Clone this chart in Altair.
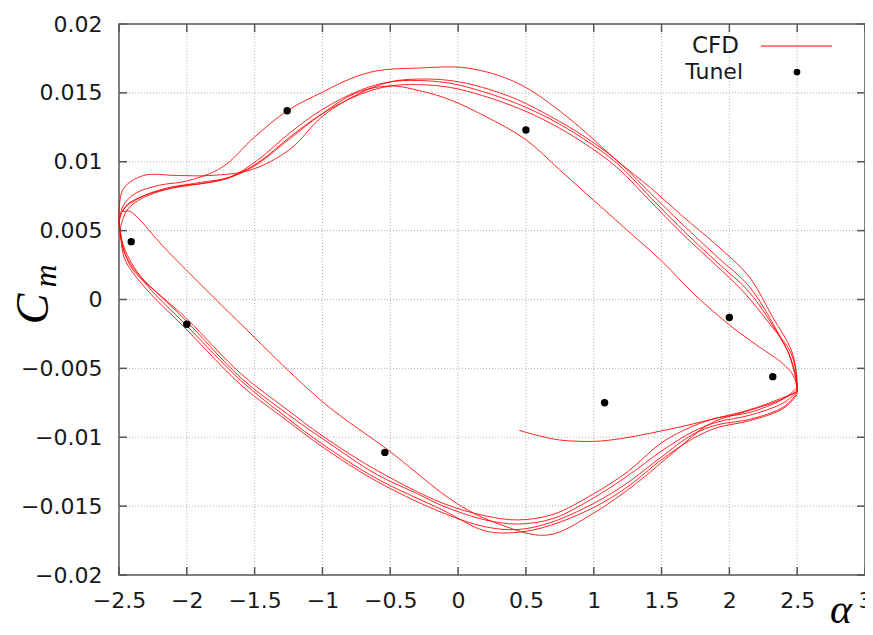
import altair as alt
import pandas as pd

# ---- data ----
# CFD: start transient, then alternating upper (alpha decreasing) / lower (alpha increasing) branches
S_a = [0.45, 0.6, 0.75, 1.0, 1.2, 1.42, 1.66, 1.91, 2.15, 2.35, 2.5]
S_c = [-0.0095, -0.0099, -0.0102, -0.0103, -0.0101, -0.0097, -0.0092, -0.0086, -0.0080, -0.0073, -0.0066]

U1_a = [2.5, 2.47, 2.4, 2.2, 2.02, 1.75, 1.5, 1.25, 1.0, 0.75, 0.5, 0.2, -0.06, -0.26, -0.5, -0.75, -1.0, -1.25, -1.5, -1.7, -1.9, -2.1, -2.3, -2.44]
U1_c = [-0.0064, -0.0055, -0.0047, -0.0033, -0.0020, 0.0003, 0.0028, 0.0050, 0.0072, 0.0094, 0.0116, 0.0133, 0.0145, 0.0151, 0.0155, 0.0150, 0.0135, 0.0116, 0.0097, 0.0088, 0.0084, 0.0082, 0.0076, 0.0068]

L1_a = [-2.47, -2.42, -2.15, -1.6, -0.99, -0.52, -0.01, 0.3, 0.66, 1.0, 1.32, 1.6, 1.86, 2.1, 2.35, 2.5]
L1_c = [0.0064, 0.0064, 0.0036, -0.0018, -0.0075, -0.0109, -0.0148, -0.0163, -0.0171, -0.0155, -0.0133, -0.0110, -0.0090, -0.0082, -0.0074, -0.0067]

U2_a = [2.5, 2.49, 2.45, 2.32, 2.15, 1.9, 1.66, 1.42, 1.17, 0.8, 0.44, 0.07, -0.3, -0.6, -0.8, -0.99, -1.26, -1.5, -1.74, -2.0, -2.2, -2.38, -2.47, -2.5]
U2_c = [-0.0067, -0.0050, -0.0035, -0.0013, 0.0016, 0.0040, 0.0060, 0.0081, 0.0101, 0.0133, 0.0157, 0.0168, 0.0168, 0.0166, 0.0160, 0.0151, 0.0137, 0.0118, 0.0096, 0.0086, 0.0083, 0.0077, 0.0068, 0.0055]

L2_a = [-2.5, -2.47, -2.4, -2.2, -2.0, -1.6, -1.26, -1.0, -0.6, -0.3, -0.11, 0.2, 0.44, 0.7, 1.0, 1.25, 1.5, 1.73, 1.91, 2.15, 2.4, 2.5]
L2_c = [0.0055, 0.0038, 0.0022, 0.0003, -0.0016, -0.0057, -0.0083, -0.0101, -0.0127, -0.0141, -0.0150, -0.0160, -0.0163, -0.0159, -0.0144, -0.0128, -0.0110, -0.0096, -0.0089, -0.0084, -0.0075, -0.0067]

U3_a = [2.5, 2.49, 2.45, 2.4, 2.15, 1.91, 1.66, 1.42, 1.17, 0.92, 0.68, 0.44, 0.18, -0.06, -0.3, -0.5, -0.72, -1.0, -1.24, -1.48, -1.68, -1.9, -2.07, -2.32, -2.44, -2.49]
U3_c = [-0.0067, -0.0056, -0.0042, -0.0032, 0.0005, 0.0027, 0.0050, 0.0074, 0.0099, 0.0117, 0.0131, 0.0142, 0.0151, 0.0157, 0.0159, 0.0158, 0.0152, 0.0138, 0.0121, 0.0101, 0.0089, 0.0085, 0.0082, 0.0074, 0.0065, 0.0052]

L3_a = [-2.49, -2.46, -2.32, -2.0, -1.59, -1.26, -1.0, -0.6, -0.11, 0.2, 0.44, 0.68, 1.0, 1.25, 1.49, 1.73, 1.91, 2.15, 2.4, 2.5]
L3_c = [0.0052, 0.0030, 0.0010, -0.0022, -0.0063, -0.0088, -0.0107, -0.0132, -0.0155, -0.0165, -0.0167, -0.0162, -0.0148, -0.0133, -0.0115, -0.0098, -0.0091, -0.0087, -0.0078, -0.0068]

U4_a = [2.5, 2.49, 2.44, 2.38, 2.15, 1.91, 1.66, 1.42, 1.17, 0.92, 0.68, 0.44, 0.18, -0.06, -0.3, -0.5, -0.72, -1.0, -1.24, -1.53, -1.83, -2.07, -2.32, -2.47, -2.5]
U4_c = [-0.0068, -0.0058, -0.0040, -0.0028, 0.0009, 0.0031, 0.0054, 0.0077, 0.0101, 0.0119, 0.0133, 0.0145, 0.0154, 0.0159, 0.0160, 0.0158, 0.0150, 0.0133, 0.0109, 0.0094, 0.0090, 0.0090, 0.0090, 0.0080, 0.0058]

L4_a = [-2.5, -2.47, -2.35, -2.0, -1.6, -1.26, -1.0, -0.6, -0.11, 0.2, 0.44, 0.7, 1.0, 1.25, 1.5, 1.73, 1.91, 2.15, 2.4, 2.5]
L4_c = [0.0058, 0.0040, 0.0018, -0.0014, -0.0054, -0.0080, -0.0099, -0.0124, -0.0148, -0.0157, -0.0160, -0.0156, -0.0141, -0.0125, -0.0104, -0.0092, -0.0086, -0.0082, -0.0072, -0.0064]

U5_a = [2.5, 2.49, 2.45, 2.3, 2.1, 1.9, 1.66, 1.42, 1.17, 0.92, 0.68, 0.44, 0.18, -0.06, -0.3, -0.5, -0.72, -1.0, -1.24, -1.48, -1.7, -1.9, -2.1, -2.3, -2.45, -2.5]
U5_c = [-0.0064, -0.0052, -0.0038, -0.0018, 0.0006, 0.0025, 0.0047, 0.0071, 0.0096, 0.0114, 0.0128, 0.0139, 0.0148, 0.0154, 0.0156, 0.0155, 0.0149, 0.0135, 0.0118, 0.0099, 0.0088, 0.0084, 0.0081, 0.0076, 0.0068, 0.0057]

L5_a = [-2.5, -2.46, -2.3, -2.0, -1.6, -1.26, -1.0, -0.6, -0.11, 0.2, 0.44, 0.68, 1.0, 1.25, 1.49, 1.73, 1.91, 2.15, 2.4, 2.5]
L5_c = [0.0057, 0.0034, 0.0011, -0.0019, -0.0059, -0.0086, -0.0105, -0.0130, -0.0153, -0.0168, -0.0169, -0.0164, -0.0151, -0.0136, -0.0117, -0.0101, -0.0093, -0.0088, -0.0079, -0.0069]

# Wind tunnel measurements
tunel_alpha = [-2.41, -2.0, -1.26, -0.54, 0.5, 1.08, 2.0, 2.32]
tunel_cm = [0.0042, -0.0018, 0.0137, -0.0111, 0.0123, -0.0075, -0.0013, -0.0056]

# Axis ticks / grid
x_ticks = [-2.5, -2, -1.5, -1, -0.5, 0, 0.5, 1, 1.5, 2, 2.5, 3]
y_ticks = [-0.02, -0.015, -0.01, -0.005, 0, 0.005, 0.01, 0.015, 0.02]
x_grid = [-2, -1.5, -1, -0.5, 0, 0.5, 1, 1.5, 2, 2.5]
y_grid = [-0.015, -0.01, -0.005, 0, 0.005, 0.01, 0.015]

legend_labels = ["CFD", "Tunel"]

# ---- build tables ----
segments = [(S_a, S_c), (U1_a, U1_c), (L1_a, L1_c), (U2_a, U2_c), (L2_a, L2_c),
            (U3_a, U3_c), (L3_a, L3_c), (U4_a, U4_c), (L4_a, L4_c), (U5_a, U5_c), (L5_a, L5_c)]
rows = []
for a_list, c_list in segments:
    for a, c in zip(a_list, c_list):
        rows.append({"alpha": a, "cm": c, "i": len(rows)})
cfd = pd.DataFrame(rows)
tunel = pd.DataFrame({"alpha": tunel_alpha, "cm": tunel_cm})
xt = pd.DataFrame({"alpha": x_ticks})
yt = pd.DataFrame({"cm": y_ticks})
xg = pd.DataFrame({"alpha": x_grid})
yg = pd.DataFrame({"cm": y_grid})

W, H = 746, 551
FRAME = "#555555"
LABEL_FONT = "DejaVu Sans"
xs = alt.Scale(domain=[-2.5, 3], nice=False, zero=False)
ys = alt.Scale(domain=[-0.02, 0.02], nice=False, zero=False)
x_axis = alt.Axis(values=x_ticks, format="~g", title=None, grid=False, domain=False,
                  ticks=False, labelFontSize=22, labelFont=LABEL_FONT, labelColor="#1a1a1a",
                  labelPadding=15, labelFlush=False, labelOverlap=False)
y_axis = alt.Axis(values=y_ticks, format="~g", title=None, grid=False, domain=False,
                  ticks=False, labelFontSize=22, labelFont=LABEL_FONT, labelColor="#1a1a1a",
                  labelPadding=17, labelFlush=False, labelOverlap=False)
X = alt.X("alpha:Q", scale=xs, axis=x_axis)
Y = alt.Y("cm:Q", scale=ys, axis=y_axis)

grid_x = alt.Chart(xg).mark_rule(color="#b4b4b4", strokeWidth=1, strokeDash=[1, 2]).encode(x=X)
grid_y = alt.Chart(yg).mark_rule(color="#b4b4b4", strokeWidth=1, strokeDash=[1, 2]).encode(y=Y)

lines = alt.Chart(cfd).mark_line(color="#ff0000", strokeWidth=0.9, opacity=0.95,
                                 interpolate="catmull-rom").encode(
    x=X, y=Y, order="i:Q")

points = alt.Chart(tunel).mark_circle(color="black", size=55, opacity=1).encode(x=X, y=Y)

tick_style = dict(color=FRAME, strokeWidth=1.5)
ticks_bottom = alt.Chart(xt).mark_rule(**tick_style).encode(
    x=X, y=alt.value(H), y2=alt.value(H - 8))
ticks_top = alt.Chart(xt).mark_rule(**tick_style).encode(
    x=X, y=alt.value(0), y2=alt.value(8))
ticks_left = alt.Chart(yt).mark_rule(**tick_style).encode(
    y=Y, x=alt.value(0), x2=alt.value(8))
ticks_right = alt.Chart(yt).mark_rule(**tick_style).encode(
    y=Y, x=alt.value(W), x2=alt.value(W - 8))

# axis titles (C_m and alpha)
title_c = alt.Chart(pd.DataFrame({"t": ["C"]})).mark_text(
    font="Liberation Serif", fontStyle="italic", fontSize=46, angle=270,
    align="center", baseline="middle", color="black").encode(
    text="t:N", x=alt.value(-85), y=alt.value(285))
title_m = alt.Chart(pd.DataFrame({"t": ["m"]})).mark_text(
    font="Liberation Serif", fontStyle="italic", fontSize=32, angle=270,
    align="center", baseline="middle", color="black").encode(
    text="t:N", x=alt.value(-73), y=alt.value(252))
title_a = alt.Chart(pd.DataFrame({"t": ["α"]})).mark_text(
    font="Liberation Serif", fontStyle="italic", fontSize=42,
    align="center", baseline="alphabetic", color="black").encode(
    text="t:N", x=alt.value(722), y=alt.value(599))

# legend (inside, top right)
leg1 = alt.Chart(pd.DataFrame({"t": [legend_labels[0]]})).mark_text(
    font=LABEL_FONT, fontSize=23, align="right", baseline="middle", color="#1a1a1a").encode(
    text="t:N", x=alt.value(620), y=alt.value(22))
leg2 = alt.Chart(pd.DataFrame({"t": [legend_labels[1]]})).mark_text(
    font=LABEL_FONT, fontSize=22, align="right", baseline="middle", color="#1a1a1a").encode(
    text="t:N", x=alt.value(624), y=alt.value(48))
leg_line = alt.Chart(pd.DataFrame({"t": [legend_labels[0]]})).mark_rule(
    color="#ff0000", strokeWidth=1.2).encode(
    x=alt.value(642), x2=alt.value(713), y=alt.value(22))
leg_dot = alt.Chart(pd.DataFrame({"t": [legend_labels[1]]})).mark_circle(
    color="black", size=45, opacity=1).encode(
    x=alt.value(678), y=alt.value(48))

chart = alt.layer(
    grid_x, grid_y, lines, points,
    ticks_bottom, ticks_top, ticks_left, ticks_right,
    title_c, title_m, title_a, leg1, leg2, leg_line, leg_dot,
).properties(
    width=W, height=H,
    padding={"left": 111, "top": 16, "right": 0, "bottom": 52},
    autosize=alt.AutoSizeParams(type="none"),
).configure_view(stroke=FRAME, strokeWidth=1.5)

chart.save("out.html", embed_options={"renderer": "svg", "actions": False})
